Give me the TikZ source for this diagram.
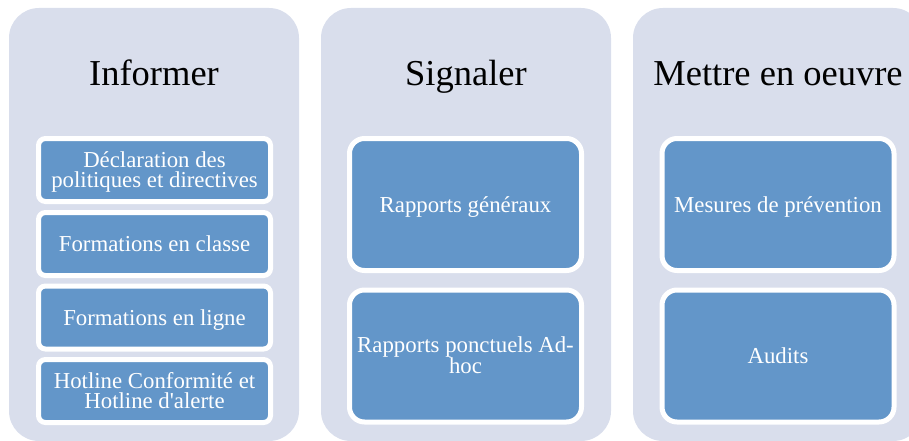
\documentclass[tikz,border=0pt]{standalone}
\usepackage{fontspec}
\setmainfont{Liberation Serif}
\newfontfamily\boxfont{Liberation Serif}
\definecolor{colbg}{HTML}{D9DEEC}
\definecolor{boxblue}{HTML}{6396C9}
\begin{document}
\begin{tikzpicture}[x=1pt,y=-1pt,
  column/.style={fill=colbg, rounded corners=30pt},
  title/.style={anchor=base, font=\fontsize{36.5}{40}\selectfont, text=black, inner sep=0pt},
  bluebox/.style={fill=boxblue, draw=white, line width=5pt, text=white, align=center,
     inner sep=0pt, font=\boxfont\fontsize{22.8}{20.5}\selectfont, minimum width=232pt},
  small/.style={bluebox, rounded corners=7pt, minimum height=63pt},
  big/.style={bluebox, rounded corners=15pt, minimum height=132pt},
  one/.style={text height=15pt, text depth=0pt},
  two/.style={text height=35.5pt, text depth=0pt}]
\useasboundingbox (0,0) rectangle (909,441);
\clip (0,0) rectangle (909,441);
% columns
\path[column] (9,8) rectangle (299,441);
\path[column] (321,8) rectangle (611,441);
\path[column] (633,8) rectangle (923,441);
% titles
\node[title] (t1) at (154,86) {Informer};
\node[title] (t2) at (466,86) {Signaler};
\node[title] (t3) at (778,86) {Mettre en oeuvre};
% column 1
\node[small,two] (a1) at (154.5,170) {Déclaration des\\politiques et directives};
\node[small,one] (a2) at (154.5,244) {Formations en classe};
\node[small,one] (a3) at (154.5,317.5) {Formations en ligne};
\node[small,two] (a4) at (154.5,391) {Hotline Conformité et\\Hotline d'alerte};
% column 2
\node[big,one] (b1) at (465.5,204.5) {Rapports généraux};
\node[big,two] (b2) at (465.5,356) {Rapports ponctuels Ad-\\hoc};
% column 3
\node[big,one] (c1) at (778,204.5) {Mesures de prévention};
\node[big,one] (c2) at (778,356) {Audits};
\end{tikzpicture}
\end{document}
